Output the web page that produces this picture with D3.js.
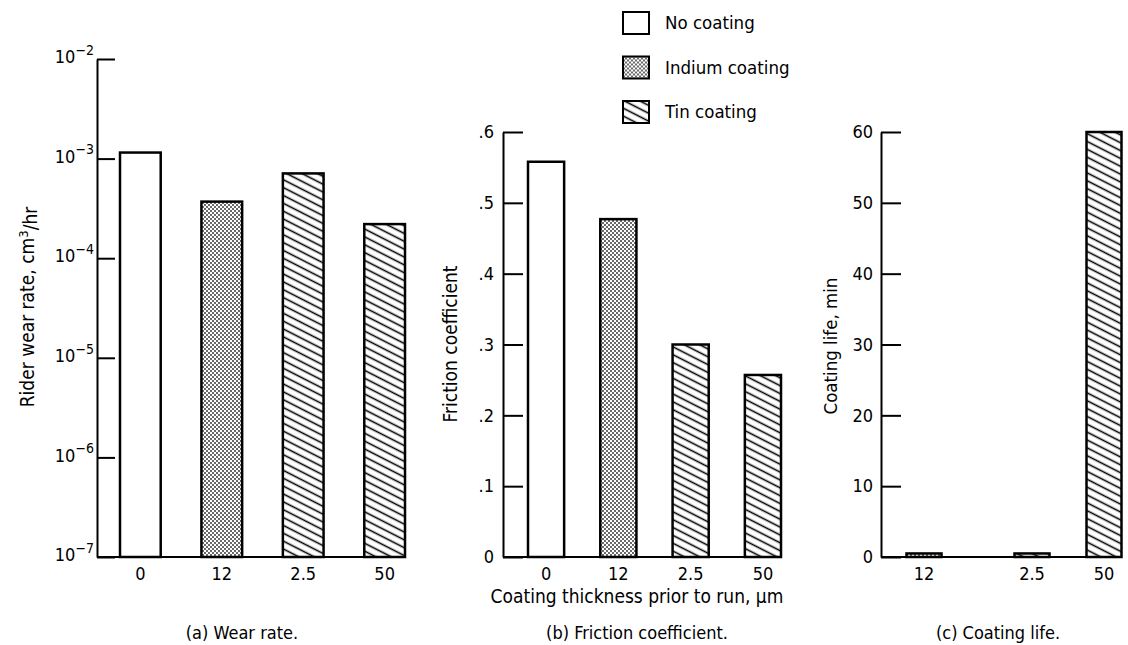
<!DOCTYPE html>
<html>
<head>
<meta charset="utf-8">
<script src="https://cdn.jsdelivr.net/npm/d3@7"></script>
<style>
  body { margin: 0; background: #fff; }
  svg text { font-family: "DejaVu Sans Condensed", "Liberation Sans Narrow", sans-serif; font-stretch: condensed; fill: #000; }
  .axis path, .axis line { stroke: #000; stroke-width: 2; }
</style>
</head>
<body>
<div id="chart"></div>
<script>
const width = 1128;
const height = 645;

// data
const coatingNames = ["No coating", "Indium coating", "Tin coating"];
const coatingKeys = ["none", "indium", "tin"];

const wearCategories = ["0", "12", "2.5", "50"];
const wearCoating = ["none", "indium", "tin", "tin"];
const wearRate = [1.15e-3, 3.7e-4, 7.1e-4, 2.2e-4];
const wearTicks = [1e-7, 1e-6, 1e-5, 1e-4, 1e-3, 1e-2];

const frictionCoef = [0.558, 0.477, 0.30, 0.257];
const frictionTicks = [0, 0.1, 0.2, 0.3, 0.4, 0.5, 0.6];

const lifeCategories = ["12", "2.5", "50"];
const lifeCoating = ["indium", "tin", "tin"];
const coatingLife = [0.5, 0.5, 60];
const lifeTicks = [0, 10, 20, 30, 40, 50, 60];

const svg = d3.select("#chart")
  .append("svg")
  .attr("width", width)
  .attr("height", height);

// fill patterns
const defs = svg.append("defs");

const dots = defs.append("pattern")
  .attr("id", "indium")
  .attr("patternUnits", "userSpaceOnUse")
  .attr("width", 4)
  .attr("height", 4);
dots.append("rect").attr("width", 4).attr("height", 4).attr("fill", "#fff");
dots.append("circle").attr("cx", 1).attr("cy", 1).attr("r", 0.9).attr("fill", "#222");
dots.append("circle").attr("cx", 3).attr("cy", 3).attr("r", 0.9).attr("fill", "#222");

const hatch = defs.append("pattern")
  .attr("id", "tin")
  .attr("patternUnits", "userSpaceOnUse")
  .attr("width", 10)
  .attr("height", 7)
  .attr("patternTransform", "rotate(27)");
hatch.append("rect").attr("width", 10).attr("height", 7).attr("fill", "#fff");
hatch.append("line")
  .attr("x1", 0).attr("x2", 10)
  .attr("y1", 3.5).attr("y2", 3.5)
  .attr("stroke", "#000")
  .attr("stroke-width", 1.6);

function fillFor(key) {
  if (key === "none") return "#fff";
  return "url(#" + key + ")";
}

const baseY = 557;

// ---------- (a) wear rate ----------
const axA = 97;
const xA = d3.scaleBand()
  .domain(wearCategories)
  .range([120, 405])
  .paddingInner(0.5)
  .paddingOuter(0);

const yA = d3.scaleLog()
  .domain([1e-7, 1e-2])
  .range([baseY, 59]);

const gA = svg.append("g")
  .attr("class", "axis")
  .attr("transform", "translate(" + axA + ",0)")
  .call(d3.axisLeft(yA)
    .tickValues(wearTicks)
    .tickSizeInner(-18)
    .tickSizeOuter(0)
    .tickPadding(3)
    .tickFormat(""));

gA.selectAll(".tick text")
  .attr("font-size", "18px")
  .each(function(d) {
    const t = d3.select(this);
    t.append("tspan").attr("dy", "0.2em").text("10");
    t.append("tspan")
      .attr("dy", "-0.6em")
      .attr("font-size", "14px")
      .text("\u2212" + Math.round(-Math.log10(d)));
  });

svg.append("line")
  .attr("x1", axA).attr("x2", xA.range()[1])
  .attr("y1", baseY).attr("y2", baseY)
  .attr("stroke", "#000").attr("stroke-width", 2);

svg.selectAll(".bar-a")
  .data(wearCategories)
  .enter()
  .append("rect")
  .attr("class", "bar-a")
  .attr("x", function(d) { return xA(d); })
  .attr("y", function(d, i) { return yA(wearRate[i]); })
  .attr("width", xA.bandwidth())
  .attr("height", function(d, i) { return baseY - yA(wearRate[i]); })
  .attr("fill", function(d, i) { return fillFor(wearCoating[i]); })
  .attr("stroke", "#000")
  .attr("stroke-width", 2.5);

svg.append("g")
  .attr("transform", "translate(0," + baseY + ")")
  .call(d3.axisBottom(xA).tickSize(0).tickPadding(10))
  .call(function(g) { g.select(".domain").remove(); })
  .selectAll("text")
  .attr("font-size", "18px");

svg.append("text")
  .attr("transform", "translate(34,307) rotate(-90)")
  .attr("text-anchor", "middle")
  .attr("font-size", "19px")
  .call(function(t) {
    t.append("tspan").text("Rider wear rate,  cm");
    t.append("tspan").attr("dy", "-0.45em").attr("font-size", "13px").text("3");
    t.append("tspan").attr("dy", "0.45em").text("/hr");
  });

svg.append("text")
  .attr("x", 242)
  .attr("y", 639)
  .attr("text-anchor", "middle")
  .attr("font-size", "18px")
  .text("(a) Wear rate.");

// ---------- (b) friction coefficient ----------
const axB = 503;
const xB = d3.scaleBand()
  .domain(wearCategories)
  .range([528, 781])
  .paddingInner(0.5)
  .paddingOuter(0);

const yB = d3.scaleLinear()
  .domain([0, 0.6])
  .range([baseY, 132]);

svg.append("g")
  .attr("class", "axis")
  .attr("transform", "translate(" + axB + ",0)")
  .call(d3.axisLeft(yB)
    .tickValues(frictionTicks)
    .tickSizeInner(-20)
    .tickSizeOuter(0)
    .tickPadding(9)
    .tickFormat(function(d) { return d === 0 ? "0" : d3.format(".1f")(d).replace(/^0/, ""); }))
  .selectAll(".tick text")
  .attr("font-size", "18px");

svg.append("line")
  .attr("x1", axB).attr("x2", xB.range()[1])
  .attr("y1", baseY).attr("y2", baseY)
  .attr("stroke", "#000").attr("stroke-width", 2);

svg.selectAll(".bar-b")
  .data(wearCategories)
  .enter()
  .append("rect")
  .attr("class", "bar-b")
  .attr("x", function(d) { return xB(d); })
  .attr("y", function(d, i) { return yB(frictionCoef[i]); })
  .attr("width", xB.bandwidth())
  .attr("height", function(d, i) { return baseY - yB(frictionCoef[i]); })
  .attr("fill", function(d, i) { return fillFor(wearCoating[i]); })
  .attr("stroke", "#000")
  .attr("stroke-width", 2.5);

svg.append("g")
  .attr("transform", "translate(0," + baseY + ")")
  .call(d3.axisBottom(xB).tickSize(0).tickPadding(10))
  .call(function(g) { g.select(".domain").remove(); })
  .selectAll("text")
  .attr("font-size", "18px");

svg.append("text")
  .attr("transform", "translate(457,344) rotate(-90)")
  .attr("text-anchor", "middle")
  .attr("font-size", "19px")
  .text("Friction coefficient");

svg.append("text")
  .attr("x", 637)
  .attr("y", 603)
  .attr("text-anchor", "middle")
  .attr("font-size", "19px")
  .text("Coating thickness prior to run, \u00b5m");

svg.append("text")
  .attr("x", 637)
  .attr("y", 639)
  .attr("text-anchor", "middle")
  .attr("font-size", "18px")
  .text("(b) Friction coefficient.");

// ---------- (c) coating life ----------
const axC = 881;
// slots are uneven in the original: 12 and 2.5 sit three slots apart, 2.5 and 50 two
const slotOf = { "12": 0, "2.5": 3, "50": 5 };
const slotX = d3.scaleLinear().domain([0, 5]).range([924, 1104]);
const barWC = 35;

const yC = d3.scaleLinear()
  .domain([0, 60])
  .range([baseY, 132]);

svg.append("g")
  .attr("class", "axis")
  .attr("transform", "translate(" + axC + ",0)")
  .call(d3.axisLeft(yC)
    .tickValues(lifeTicks)
    .tickSizeInner(-20)
    .tickSizeOuter(0)
    .tickPadding(8))
  .selectAll(".tick text")
  .attr("font-size", "18px");

svg.append("line")
  .attr("x1", axC).attr("x2", slotX(5) + barWC / 2)
  .attr("y1", baseY).attr("y2", baseY)
  .attr("stroke", "#000").attr("stroke-width", 2);

svg.selectAll(".bar-c")
  .data(lifeCategories)
  .enter()
  .append("rect")
  .attr("class", "bar-c")
  .attr("x", function(d) { return slotX(slotOf[d]) - barWC / 2; })
  .attr("y", function(d, i) { return yC(coatingLife[i]); })
  .attr("width", barWC)
  .attr("height", function(d, i) { return baseY - yC(coatingLife[i]); })
  .attr("fill", function(d, i) { return fillFor(lifeCoating[i]); })
  .attr("stroke", "#000")
  .attr("stroke-width", 2.5);

svg.selectAll(".label-c")
  .data(lifeCategories)
  .enter()
  .append("text")
  .attr("class", "label-c")
  .attr("x", function(d) { return slotX(slotOf[d]); })
  .attr("y", baseY + 10)
  .attr("dy", "0.71em")
  .attr("text-anchor", "middle")
  .attr("font-size", "18px")
  .text(function(d) { return d; });

svg.append("text")
  .attr("transform", "translate(837,346) rotate(-90)")
  .attr("text-anchor", "middle")
  .attr("font-size", "18.5px")
  .text("Coating life,  min");

svg.append("text")
  .attr("x", 998)
  .attr("y", 639)
  .attr("text-anchor", "middle")
  .attr("font-size", "18px")
  .text("(c) Coating life.");

// ---------- legend ----------
const legendY = d3.scalePoint()
  .domain(coatingKeys)
  .range([23, 112]);

const legend = svg.selectAll(".legend")
  .data(coatingKeys)
  .enter()
  .append("g")
  .attr("class", "legend")
  .attr("transform", function(d) { return "translate(623," + legendY(d) + ")"; });

legend.append("rect")
  .attr("x", 0)
  .attr("y", -11)
  .attr("width", 26)
  .attr("height", 22)
  .attr("fill", function(d) { return fillFor(d); })
  .attr("stroke", "#000")
  .attr("stroke-width", 2);

legend.append("text")
  .attr("x", 42)
  .attr("dy", "0.35em")
  .attr("font-size", "18.5px")
  .text(function(d, i) { return coatingNames[i]; });
</script>
</body>
</html>
